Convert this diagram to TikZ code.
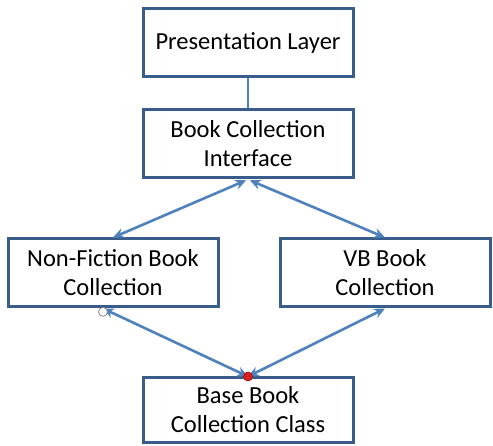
\documentclass[tikz,border=0pt]{standalone}
\usepackage{fontspec}
\setmainfont{Carlito}
\usetikzlibrary{arrows.meta, positioning}
\definecolor{azul}{RGB}{79, 129, 189}
\definecolor{azulEsc}{RGB}{56, 93, 138}
\definecolor{vermelho}{RGB}{220, 30, 30}
\tikzset{
  caixa/.style={
    draw=azulEsc, line width=3pt, minimum width=210pt, minimum height=68pt,
    font=\fontsize{24.5}{29}\selectfont, align=center, inner sep=3pt
  },
  seta/.style={{Stealth[length=11pt, width=10pt]}-{Stealth[length=11pt, width=10pt]}, line width=2.6pt, azul},
  linha/.style={line width=2.6pt, azul},
  ponto/.style={circle, draw=gray, line width=0.7pt, inner sep=0pt, minimum size=9pt},
}
\begin{document}
\begin{tikzpicture}
        \useasboundingbox[fill=white] (0pt,0pt) rectangle (493pt,-446pt);

        \node[caixa] (pres) at (248pt,-43pt) {Presentation Layer};
        \node[caixa, below=30pt of pres] (iface) {Book Collection\\Interface};

        \node[caixa, below left=58pt and -78pt of iface]  (nfic) {Non-Fiction Book\\Collection};
        \node[caixa, below right=58pt and -76pt of iface] (vb)   {VB Book\\Collection};

        \coordinate (meio) at (nfic.south -| iface.south);
        \node[caixa, minimum height=64pt, below=68pt of meio] (base)
          {Base Book\\Collection Class};

        \draw[linha] (pres) -- (iface);
        \draw[seta, shorten <=2pt] (iface.south) -- (nfic.north);
        \draw[seta, shorten <=2pt] (iface.south) -- (vb.north);
        \draw[seta] (base.north) -- ([xshift=-10pt]nfic.south);
        \draw[seta] (base.north) -- (vb.south);

        \node[ponto, fill=white, below=-1.5pt of {[xshift=-10pt]nfic.south}] (pb) {};
        \node[ponto, fill=vermelho, draw=vermelho!70!black] (pv) at (base.north) {};
      \end{tikzpicture}
\end{document}
